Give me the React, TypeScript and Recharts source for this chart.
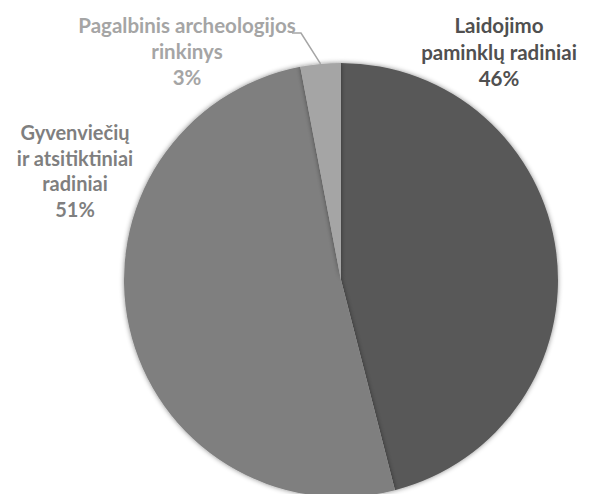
import React from "react";
import { PieChart, Pie, Cell } from "recharts";

const categories = [
  ["Laidojimo", "paminklų radiniai"],
  ["Gyvenviečių", "ir atsitiktiniai", "radiniai"],
  ["Pagalbinis archeologijos", "rinkinys"],
];
const values = [46, 51, 3];
const names = ["Laidojimo paminklų radiniai", "Gyvenviečių ir atsitiktiniai radiniai", "Pagalbinis archeologijos rinkinys"];

const sliceColors = ["#595959", "#7f7f7f", "#a5a5a5"];
const labelColors = ["#505050", "#7f7f7f", "#a5a5a5"];
// label block centres (x, first-line y)
const labelAnchors = [
  { x: 499, y: 25 },
  { x: 75, y: 132 },
  { x: 187, y: 25 },
];
const fontSizes = [20.5, 20, 20.5];
const lineHeights = [26.5, 25.5, 26];
const RAD = Math.PI / 180;

const data = values.map((v, i) => ({ name: names[i], value: v }));

const renderLabel = (props: any) => {
  const { index, percent, cx, cy, outerRadius, midAngle } = props;
  const a = labelAnchors[index];
  const lines = [...categories[index], `${Math.round(percent * 100)}%`];
  const lh = lineHeights[index];
  const els: any[] = [];
  if (index === 2) {
    const px = cx + outerRadius * Math.cos(-midAngle * RAD);
    const py = cy + outerRadius * Math.sin(-midAngle * RAD);
    els.push(
      <polyline
        key="leader"
        points={`292,33 301,33 ${px},${py}`}
        fill="none"
        stroke="#a5a5a5"
        strokeWidth={1.5}
      />
    );
  }
  els.push(
    <text
      key="t"
      x={a.x}
      y={a.y}
      textAnchor="middle"
      dominantBaseline="central"
      fill={labelColors[index]}
      style={{ fontFamily: "Lato, 'Open Sans', sans-serif", fontWeight: 700, fontSize: fontSizes[index] }}
    >
      {lines.map((l, i) => (
        <tspan key={i} x={a.x} y={a.y + i * lh}>
          {l}
        </tspan>
      ))}
    </text>
  );
  return <g>{els}</g>;
};

export default function App() {
  return (
    <div style={{ position: "absolute", left: 0, top: 0, width: 589, height: 494, background: "#fff" }}>
      <svg width={0} height={0} style={{ position: "absolute" }}>
        <defs>
          <filter id="pieShadow" x="-10%" y="-10%" width="120%" height="120%">
            <feDropShadow dx="0" dy="0" stdDeviation="2.5" floodColor="#000" floodOpacity="0.45" />
          </filter>
        </defs>
      </svg>
      <PieChart width={589} height={494} margin={{ top: 0, right: 0, bottom: 0, left: 0 }}>
        <Pie
          data={data}
          dataKey="value"
          nameKey="name"
          cx={341}
          cy={280}
          outerRadius={217}
          startAngle={90}
          endAngle={-270}
          stroke="none"
          label={renderLabel}
          labelLine={false}
          isAnimationActive={false}
          style={{ filter: "url(#pieShadow)" }}
        >
          {data.map((d, i) => (
            <Cell key={i} fill={sliceColors[i]} />
          ))}
        </Pie>
      </PieChart>
    </div>
  );
}
